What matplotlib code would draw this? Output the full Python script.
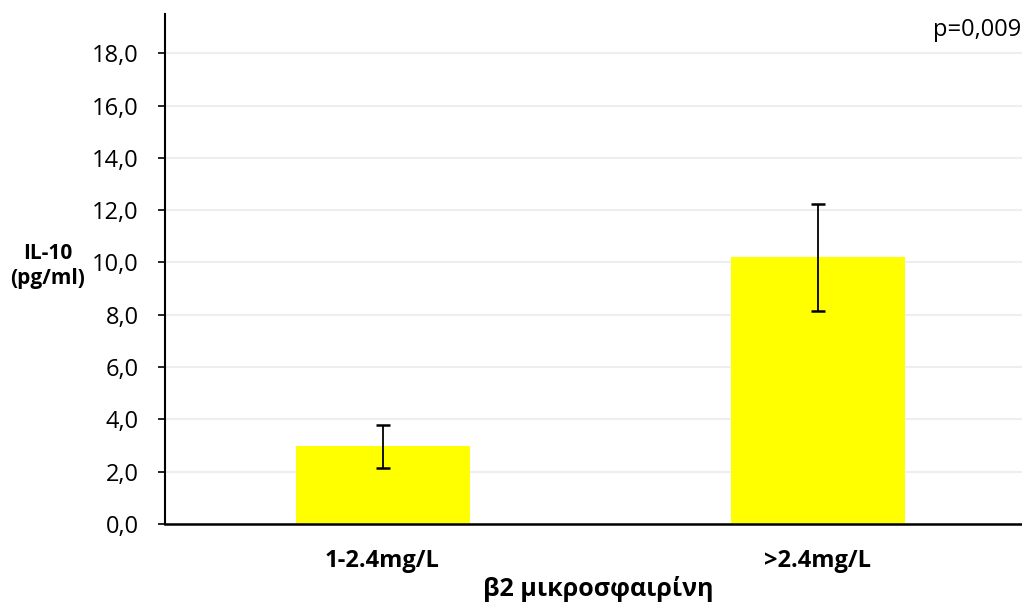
import matplotlib
matplotlib.use('Agg')
import matplotlib.pyplot as plt
from matplotlib.ticker import FuncFormatter

plt.rcParams['font.family'] = ['Open Sans', 'DejaVu Sans']

categories = ['1-2.4mg/L', '>2.4mg/L']
means = [2.98, 10.2]
errors = [0.82, 2.05]
y_ticks = [0, 2, 4, 6, 8, 10, 12, 14, 16, 18]

fig = plt.figure(figsize=(10.22, 6.14), dpi=100)
# axes runs a little past the right edge, like the original export
ax = fig.add_axes([165/1022, 90/614, 870/1022, 510/614])

x = range(len(categories))
ax.bar(x, means, width=0.4, color='#ffff00', zorder=2)
ax.errorbar(x, means, yerr=errors, fmt='none', ecolor='black',
            elinewidth=1.3, capsize=5, capthick=1.8, zorder=3)

ax.set_xlim(-0.5, 1.5)
ax.set_ylim(0, 19.5)
ax.set_yticks(y_ticks)
ax.yaxis.set_major_formatter(FuncFormatter(lambda v, p: ('%.1f' % v).replace('.', ',')))
ax.set_xticks(list(x))
ax.set_xticklabels(categories, fontweight='bold', fontsize=17)
ax.tick_params(axis='x', length=0, pad=18)
ax.tick_params(axis='y', length=5, width=1.2, labelsize=17, pad=14)

ax.grid(axis='y', color='#eeeeee', linewidth=1.5, zorder=0)
ax.set_axisbelow(True)
for s in ['top', 'right']:
    ax.spines[s].set_visible(False)
ax.spines['left'].set_linewidth(1.5)
ax.spines['bottom'].set_linewidth(1.8)

fig.text(48/1022, 1 - 266/614, 'IL-10\n(pg/ml)', ha='center', va='center',
         fontsize=15, fontweight='bold', linespacing=1.25)
fig.text(598/1022, 1 - 589/614, 'β2 μικροσφαιρίνη', ha='center', va='center',
         fontsize=18, fontweight='bold')
fig.text(1021/1022, 1 - 30/614, 'p=0,009', ha='right', va='center', fontsize=17)

fig.savefig('out.png', dpi=100)
